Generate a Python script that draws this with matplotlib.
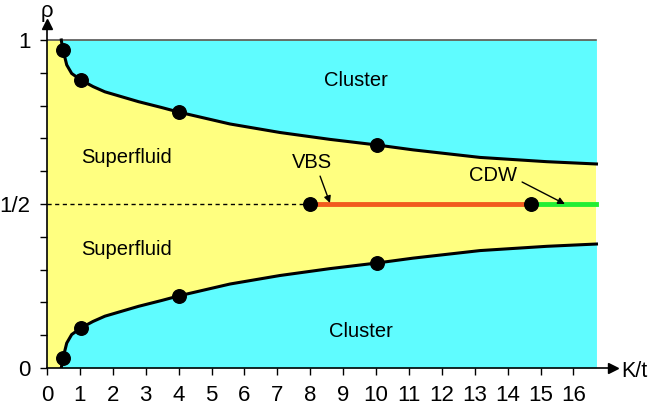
import numpy as np
import matplotlib.pyplot as plt

plt.rcParams['font.family'] = ['Liberation Sans', 'DejaVu Sans']

# phase boundary (upper and lower branch)
upper_x = [0.435, 0.45, 0.486, 0.60, 0.75, 1.03, 1.4, 1.76, 2.78, 3.49, 4.01, 5.56, 7.08, 8.6, 10.02, 11.13, 13.16, 15.19, 16.7]
upper_y = [1.0, 0.99, 0.970, 0.924, 0.898, 0.878, 0.858, 0.842, 0.812, 0.794, 0.780, 0.744, 0.718, 0.697, 0.680, 0.665, 0.642, 0.629, 0.622]
lower_x = [0.435, 0.45, 0.486, 0.60, 0.75, 1.03, 1.4, 1.76, 2.78, 3.49, 4.01, 5.56, 7.08, 8.6, 10.02, 11.13, 13.16, 15.19, 16.7]
lower_y = [0.0, 0.01, 0.030, 0.076, 0.102, 0.122, 0.142, 0.158, 0.188, 0.206, 0.220, 0.256, 0.282, 0.303, 0.320, 0.335, 0.358, 0.371, 0.378]

# simulation points
dots_up_x = [0.486, 1.03, 4.01, 10.02]
dots_up_y = [0.970, 0.878, 0.780, 0.680]
dots_lo_x = [0.486, 1.03, 4.01, 10.02]
dots_lo_y = [0.030, 0.122, 0.220, 0.320]
half_dots_x = [8.0, 14.7]

k_max = 16.7
xticks = list(range(0, 17))

fig = plt.figure(figsize=(6.49, 4.11), dpi=100)
ax = fig.add_axes([0.0724, 0.1046, 0.872, 0.838])
ax.set_xlim(0, 17.2)
ax.set_ylim(0, 1.05)

yellow = '#ffff80'
cyan = '#5ffcff'
ax.fill_between([0, k_max], 0, 1, color=yellow, lw=0, zorder=0)
ax.fill_between(upper_x, upper_y, 1, color=cyan, lw=0, zorder=1)
ax.fill_between(lower_x, 0, lower_y, color=cyan, lw=0, zorder=1)

ax.plot([0, k_max], [1, 1], color='#555555', lw=1.2, zorder=2)
ax.plot(upper_x, upper_y, color='black', lw=2.2, zorder=3, solid_joinstyle='round')
ax.plot(lower_x, lower_y, color='black', lw=2.2, zorder=3, solid_joinstyle='round')

# rho = 1/2 line
ax.plot([0, half_dots_x[0]], [0.5, 0.5], color='black', lw=1, ls=(0, (3, 2.5)), zorder=3)
ax.plot([half_dots_x[0], half_dots_x[1]], [0.5, 0.5], color='#f25a1e', lw=3.5, zorder=3)
ax.plot([half_dots_x[1], k_max], [0.5, 0.5], color='#22ee33', lw=3.5, zorder=3)

ax.scatter(dots_up_x + dots_lo_x, dots_up_y + dots_lo_y, s=95, color='black', zorder=5)
ax.scatter(half_dots_x, [0.5, 0.5], s=95, color='black', zorder=5)

fs = 14.5
ax.text(9.39, 0.878, 'Cluster', fontsize=fs, ha='center', va='center')
ax.text(9.54, 0.11, 'Cluster', fontsize=fs, ha='center', va='center')
ax.text(2.43, 0.643, 'Superfluid', fontsize=fs, ha='center', va='center')
ax.text(2.43, 0.36, 'Superfluid', fontsize=fs, ha='center', va='center')

ax.text(8.05, 0.628, 'VBS', fontsize=fs, ha='center', va='center')
ax.text(13.56, 0.588, 'CDW', fontsize=fs, ha='center', va='center')
arrow = dict(arrowstyle='-|>', color='black', lw=1, mutation_scale=10, shrinkA=0, shrinkB=0)
ax.annotate('', xy=(8.6, 0.503), xytext=(8.3, 0.585), arrowprops=arrow)
ax.annotate('', xy=(15.74, 0.5), xytext=(14.44, 0.567), arrowprops=arrow)

# axes
for s in ['top', 'right']:
    ax.spines[s].set_visible(False)
ax.spines['left'].set_linewidth(1.2)
ax.spines['bottom'].set_linewidth(1.2)
ax.plot(1, 0, '>', color='black', ms=7, transform=ax.transAxes, clip_on=False)
ax.plot(0, 1, '^', color='black', ms=7, transform=ax.transAxes, clip_on=False)

ax.set_xticks(xticks)
ax.set_xticklabels([str(v) for v in xticks])
ax.set_yticks([0, 0.5, 1])
ax.set_yticklabels(['0', '1/2', '1'])
ax.set_yticks(np.arange(0.1, 1.0, 0.1), minor=True)
ax.tick_params(axis='both', labelsize=16, direction='out', length=5, width=1)
ax.tick_params(axis='y', which='minor', length=5, width=1)
ax.tick_params(axis='x', pad=7)
ax.tick_params(axis='y', pad=7)

fig.text(0.998, 1 - 371 / 411, 'K/t', fontsize=15.5, ha='right', va='center')
fig.text(47 / 649, 1 - 11 / 411, 'ρ', fontsize=16, ha='center', va='center')

fig.savefig('out.png', dpi=100)
